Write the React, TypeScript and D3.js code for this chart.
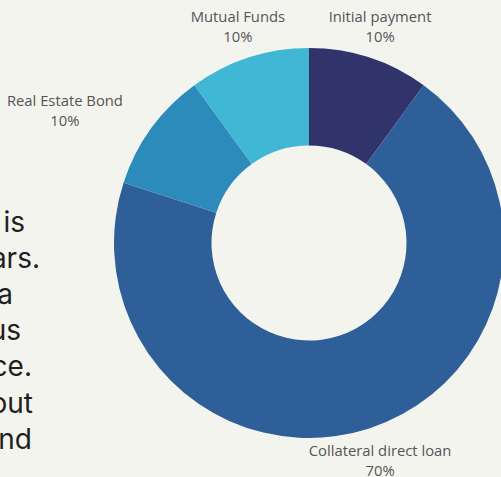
import React from "react";
import * as d3 from "d3";

const categories = ["Initial payment", "Collateral direct loan", "Real Estate Bond", "Mutual Funds"];
const values = [10, 70, 10, 10];
const colors = ["#31346B", "#2F5F98", "#2C8BBA", "#41B7D6"];
const paragraphLines = ["This is", "years.", "a", "various", "finance.", "about", "and"];
const paragraphRightEdges = [25, 40, 13, 21, 32, 33, 32];

const W = 501;
const H = 477;
const BG = "#F4F4EF";

function measure(text: string, font: string): number {
  const c = document.createElement("canvas").getContext("2d");
  if (!c) return text.length * 7;
  c.font = font;
  return c.measureText(text).width;
}

export default function App() {
  const cx = 309;
  const cy = 243;
  const outerR = 195;
  const innerR = 97.5;
  const labelR = 230;
  const labelSize = 14.8;

  const pie = d3.pie<number>().value((d) => d).sort(null)(values);
  const arc = d3.arc<d3.PieArcDatum<number>>().innerRadius(innerR).outerRadius(outerR);
  const total = d3.sum(values);
  const labelFont = `${labelSize}px 'Open Sans'`;

  const lineY = d3.scaleLinear().domain([0, paragraphLines.length - 1]).range([232, 448.6]);

  return (
    <svg width={W} height={H} style={{ position: "fixed", left: 0, top: 0, background: BG }}>
      <rect x={0} y={0} width={W} height={H} fill={BG} />
      <g fontFamily="Inter, Roboto, sans-serif" fontSize={28} fill="#1f1f1f">
        {paragraphLines.map((t, i) => (
          <text key={i} x={paragraphRightEdges[i]} y={lineY(i)} textAnchor="end">
            {t}
          </text>
        ))}
      </g>
      <g transform={`translate(${cx},${cy})`}>
        {pie.map((p, i) => (
          <path key={i} d={arc(p) || ""} fill={colors[i]} />
        ))}
      </g>
      <g fontFamily="'Open Sans', sans-serif" fontSize={labelSize} fill="#555">
        {pie.map((p, i) => {
          const mid = (p.startAngle + p.endAngle) / 2;
          const sx = Math.sin(mid);
          const cyc = -Math.cos(mid);
          const px = cx + labelR * sx;
          const py = cy + labelR * cyc;
          const pct = `${Math.round((values[i] / total) * 100)}%`;
          const wName = measure(categories[i], labelFont);
          let centerX = px;
          if (Math.abs(sx) > 0.6) {
            centerX = sx > 0 ? px + wName / 2 : px - wName / 2;
          }
          const baseY = py + (cyc < 0 ? -2 : -6);
          return (
            <g key={i}>
              <text x={centerX} y={baseY} textAnchor="middle">
                {categories[i]}
              </text>
              <text x={centerX} y={baseY + 20} textAnchor="middle">
                {pct}
              </text>
            </g>
          );
        })}
      </g>
    </svg>
  );
}
